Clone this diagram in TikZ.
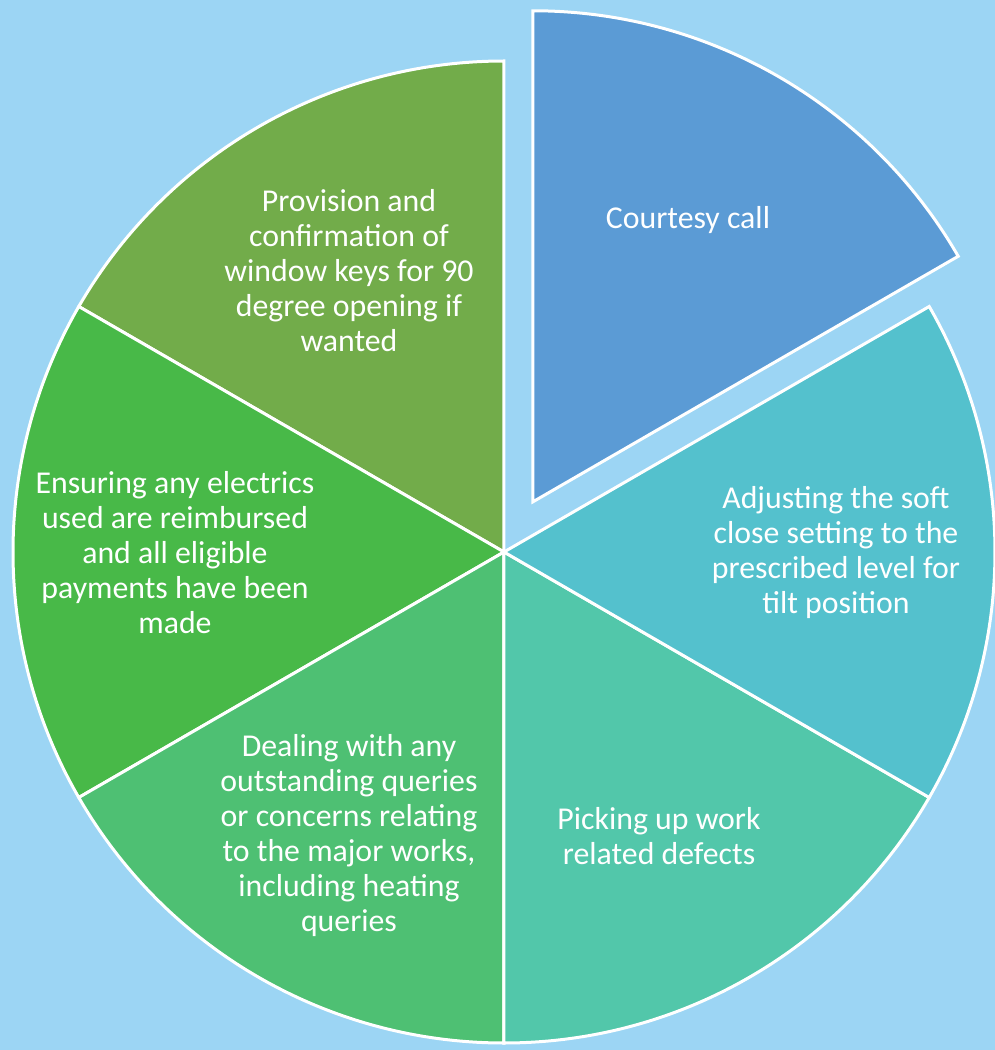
\documentclass[tikz,border=0pt]{standalone}
\usepackage{fontspec}
\setmainfont{Carlito}
\definecolor{bgblue}{RGB}{156,213,244}
\definecolor{courtesy}{RGB}{91,155,213}
\definecolor{adjust}{RGB}{84,193,205}
\definecolor{picking}{RGB}{82,199,170}
\definecolor{dealing}{RGB}{78,192,115}
\definecolor{ensuring}{RGB}{72,185,72}
\definecolor{provision}{RGB}{114,172,74}
\tikzset{
  slice/.style={draw=white, line width=3pt, line join=miter},
  slicetext/.style={text=white, align=center, font=\fontsize{31.8}{35}\selectfont, inner sep=0pt}
}

\begin{document}
\begin{tikzpicture}[x=1pt, y=1pt]
        \fill [bgblue] (-504,-498) rectangle (491,552);
        \useasboundingbox (-504,-498) rectangle (491,552);
        % slices
        \draw [slice, fill=provision] (0,0) -- (90:491) arc[start angle=90, end angle=150, radius=491] -- cycle;
        \draw [slice, fill=ensuring] (0,0) -- (150:491) arc[start angle=150, end angle=210, radius=491] -- cycle;
        \draw [slice, fill=dealing] (0,0) -- (210:491) arc[start angle=210, end angle=270, radius=491] -- cycle;
        \draw [slice, fill=picking] (0,0) -- (270:491) arc[start angle=270, end angle=330, radius=491] -- cycle;
        \draw [slice, fill=adjust] (0,0) -- (-30:491) arc[start angle=-30, end angle=30, radius=491] -- cycle;
        \draw [slice, fill=courtesy, shift={(60:58)}] (0,0) -- (30:491) arc[start angle=30, end angle=90, radius=491] -- cycle;
        % labels
        \node [slicetext] (courtesy) at (184, 332) {Courtesy call};
        \node [slicetext] (adjust) at (332, -1) {Adjusting the soft\\close setting to the\\prescribed level for\\tilt position};
        \node [slicetext] (picking) at (155, -284) {Picking up work\\related defects};
        \node [slicetext] (dealing) at (-155, -284) {Dealing with any\\outstanding queries\\or concerns relating\\to the major works,\\including heating\\queries};
        \node [slicetext] (ensuring) at (-329, -1) {Ensuring any electrics\\used are reimbursed\\and all eligible\\payments have been\\made};
        \node [slicetext] (provision) at (-155, 281) {Provision and\\confirmation of\\window keys for 90\\degree opening if\\wanted};
\end{tikzpicture}
\end{document}
